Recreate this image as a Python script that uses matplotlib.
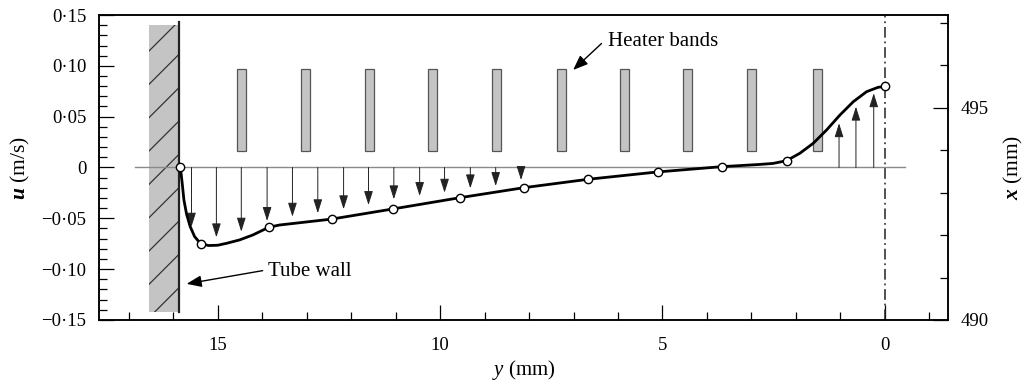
import matplotlib

matplotlib.use("Agg")

import matplotlib.pyplot as plt
from matplotlib.patches import Rectangle
from matplotlib.ticker import FixedLocator, MultipleLocator

# velocity profile (y in mm from the axis, u in m/s)
CURVE_Y = [15.84, 15.80, 15.76, 15.70, 15.62, 15.52, 15.38, 15.20, 15.00, 14.80,
           14.51, 14.21, 13.85, 13.61, 12.44, 11.06, 9.55, 8.12, 6.67, 5.11,
           3.67, 2.81, 2.51, 2.21, 1.91, 1.61, 1.31, 1.01, 0.71, 0.41, 0.15, 0.0]
CURVE_U = [0.0, -0.015, -0.032, -0.046, -0.058, -0.068, -0.0752, -0.0768, -0.0765, -0.0746,
           -0.0713, -0.0664, -0.0588, -0.0566, -0.0508, -0.0408, -0.0297, -0.0199, -0.0116, -0.0044,
           0.0008, 0.0030, 0.0040, 0.0067, 0.0140, 0.0238, 0.0369, 0.0516, 0.0647, 0.0746, 0.0789, 0.0797]

# measured points (open circles)
MARK_Y = [15.84, 15.38, 13.85, 12.44, 11.06, 9.55, 8.12, 6.67, 5.11, 3.67, 2.21, 0.0]
MARK_U = [0.0, -0.0752, -0.0588, -0.0508, -0.0408, -0.0297, -0.0199, -0.0116, -0.0044, 0.0008, 0.0067, 0.0797]

# velocity vectors
DOWN_Y = [15.59, 15.03, 14.47, 13.89, 13.32, 12.75, 12.17, 11.61, 11.04, 10.46, 9.90, 9.32, 8.75, 8.18]
DOWN_U = [-0.0582, -0.0687, -0.0631, -0.0526, -0.0484, -0.0450, -0.0411, -0.0369, -0.0313,
          -0.0280, -0.0248, -0.0205, -0.0182, -0.0123]
UP_Y = [1.03, 0.65, 0.25]
UP_U = [0.0435, 0.0598, 0.0730]

# heater band centres (mm) and their vertical extent (in u units)
HEATER_Y = [14.46, 13.02, 11.58, 10.17, 8.73, 7.27, 5.85, 4.43, 2.99, 1.52]
HEATER_U = (0.0165, 0.0966)
WALL_Y = 15.86

U_TICKS = [-0.15, -0.10, -0.05, 0.0, 0.05, 0.10, 0.15]
U_LABELS = ["\u22120\u00b715", "\u22120\u00b710", "\u22120\u00b705", "0", "0\u00b705", "0\u00b710", "0\u00b715"]
Y_TICKS = [15, 10, 5, 0]
Y_LABELS = ["15", "10", "5", "0"]
X_TICKS = [490, 495]
X_LABELS = ["490", "495"]

plt.rcParams.update({
    "font.family": "Liberation Serif",
    "font.size": 13.5,
    "mathtext.fontset": "custom",
    "mathtext.rm": "Liberation Serif",
    "mathtext.it": "Liberation Serif:italic",
    "mathtext.bf": "Liberation Serif:bold",
    "mathtext.bfit": "Liberation Serif:bold:italic",
    "hatch.linewidth": 0.9,
})

fig = plt.figure(figsize=(10.31, 3.85), dpi=100)
ax = fig.add_axes([0.096, 0.169, 0.8235, 0.792])

ax.set_xlim(17.67, -1.42)
ax.set_ylim(-0.15, 0.15)

# tube wall
ax.add_patch(Rectangle((WALL_Y, -0.142), 0.69, 0.282, facecolor="#c4c4c4",
                       edgecolor="#333333", hatch="/", linewidth=0, zorder=1))
ax.plot([WALL_Y, WALL_Y], [-0.142, 0.143], color="#222222", lw=1.6, zorder=2)

# zero line and centreline
ax.plot([16.87, -0.45], [0, 0], color="#8a8a8a", lw=1.0, zorder=2)
ax.axvline(0, color="#222222", lw=1.1, dashes=[7, 2.5, 1.2, 2.5], zorder=2)

# heater bands
for yc in HEATER_Y:
    ax.add_patch(Rectangle((yc - 0.1, HEATER_U[0]), 0.2, HEATER_U[1] - HEATER_U[0],
                           facecolor="#c4c4c4", edgecolor="#555555", lw=0.9, zorder=2))

# vectors
for yv, uv in list(zip(DOWN_Y, DOWN_U)) + list(zip(UP_Y, UP_U)):
    ax.annotate("", xy=(yv, uv), xytext=(yv, 0),
                arrowprops=dict(arrowstyle="-|>,head_length=0.85,head_width=0.27",
                                mutation_scale=10, color="#222222", lw=0.7,
                                shrinkA=0, shrinkB=0), zorder=3)

ax.plot(CURVE_Y, CURVE_U, color="black", lw=2.0, solid_joinstyle="round", zorder=4)
ax.plot(MARK_Y, MARK_U, "o", ms=6, mfc="white", mec="black", mew=1.0, zorder=5)

# annotations
ax.annotate("", xy=(7.01, 0.0959), xytext=(6.37, 0.122),
            arrowprops=dict(arrowstyle="-|>,head_length=0.9,head_width=0.35",
                            mutation_scale=10, color="black", lw=1.0, shrinkA=0, shrinkB=0))
ax.text(6.22, 0.1237, "Heater bands", ha="left", va="center", fontsize=15)
ax.annotate("", xy=(15.70, -0.1145), xytext=(13.99, -0.1015),
            arrowprops=dict(arrowstyle="-|>,head_length=0.9,head_width=0.35",
                            mutation_scale=10, color="black", lw=1.0, shrinkA=0, shrinkB=0))
ax.text(13.88, -0.1019, "Tube wall", ha="left", va="center", fontsize=15)

# axes styling
for sp in ax.spines.values():
    sp.set_linewidth(1.1)
ax.yaxis.set_major_locator(FixedLocator(U_TICKS))
ax.set_yticklabels(U_LABELS)
ax.yaxis.set_minor_locator(MultipleLocator(0.01))
ax.xaxis.set_major_locator(FixedLocator(Y_TICKS))
ax.set_xticklabels(Y_LABELS)
ax.xaxis.set_minor_locator(MultipleLocator(1))
ax.tick_params(which="both", direction="in", top=False, right=False, width=0.9)
ax.tick_params(which="major", length=11, pad=9)
ax.tick_params(which="minor", length=6)
ax.tick_params(axis="x", which="major", pad=12)

ax2 = ax.twinx()
ax2.set_ylim(490, 497.19)
ax2.yaxis.set_major_locator(FixedLocator(X_TICKS))
ax2.set_yticklabels(X_LABELS)
ax2.yaxis.set_minor_locator(MultipleLocator(1))
ax2.tick_params(which="both", direction="in", width=0.9)
ax2.tick_params(which="major", length=11, pad=9)
ax2.tick_params(which="minor", length=6)
for sp in ax2.spines.values():
    sp.set_linewidth(1.1)

# axis titles
fig.text(20 / 1031, 1 - 168 / 385, r"$\mathbfit{u}$ (m/s)", rotation=90,
         ha="center", va="center", fontsize=15.5)
fig.text(1013 / 1031, 1 - 167 / 385, r"$\mathbfit{x}$ (mm)", rotation=90,
         ha="center", va="center", fontsize=15.5)
fig.text(524 / 1031, 1 - 370 / 385, r"$\mathit{y}$ (mm)",
         ha="center", va="center", fontsize=15)

fig.savefig("out.png", dpi=100)
